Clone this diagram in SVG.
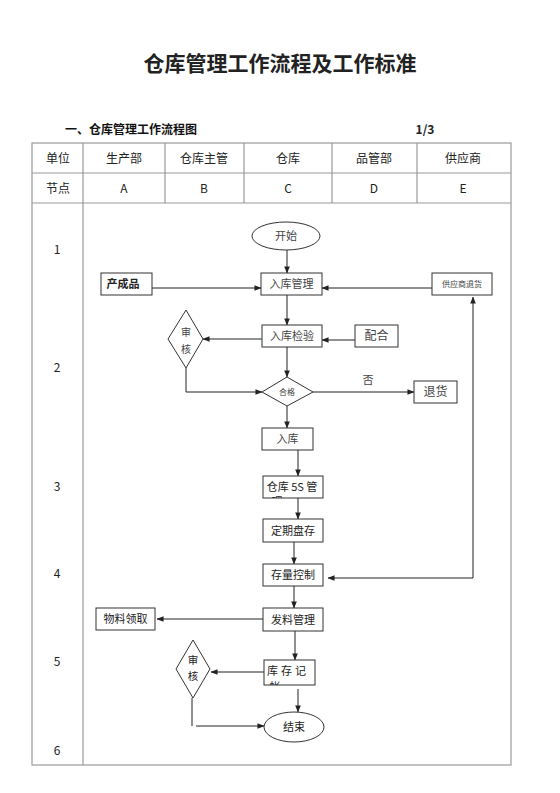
<svg xmlns="http://www.w3.org/2000/svg" width="560" height="793" viewBox="0 0 560 793">
<defs>
<style>
.t{font-family:"Noto Sans CJK SC","Liberation Sans",sans-serif;fill:#222;text-anchor:middle}
.s{font-family:"Noto Sans CJK SC","Liberation Sans",sans-serif;fill:#444;text-anchor:middle}
.grid{stroke:#999;stroke-width:1.2;fill:none}
.box{fill:#fff;stroke:#333;stroke-width:1}
.ln{stroke:#222;stroke-width:1;fill:none}
</style>
<marker id="ar" viewBox="0 0 8 8" refX="7.5" refY="4" markerWidth="7" markerHeight="7" markerUnits="userSpaceOnUse" orient="auto">
<path d="M0,0.8 L8,4 L0,7.2 z" fill="#222"/>
</marker>
<clipPath id="c5s"><rect x="263" y="476" width="60" height="22"/></clipPath>
<clipPath id="cjz"><rect x="264" y="660" width="51" height="25"/></clipPath>
</defs>
<rect width="560" height="793" fill="#fff"/>

<g id="title">
<text class="t" x="280" y="71" font-size="21" font-weight="bold" fill="#000">仓库管理工作流程及工作标准</text>
<text x="65" y="134" font-family="Noto Sans CJK SC,sans-serif" font-size="12" font-weight="bold" fill="#111">一、仓库管理工作流程图</text>
<text class="t" x="425" y="134" font-size="12" font-weight="bold">1/3</text>
</g>

<g id="table">
<rect class="grid" x="32" y="143" width="479" height="622"/>
<line class="grid" x1="32" y1="173" x2="511" y2="173"/>
<line class="grid" x1="32" y1="203" x2="511" y2="203"/>
<line class="grid" x1="83" y1="143" x2="83" y2="765"/>
<line class="grid" x1="165" y1="143" x2="165" y2="203"/>
<line class="grid" x1="244" y1="143" x2="244" y2="203"/>
<line class="grid" x1="332" y1="143" x2="332" y2="203"/>
<line class="grid" x1="417" y1="143" x2="417" y2="203"/>
<g font-size="12">
<text class="t" x="58" y="163">单位</text>
<text class="t" x="124" y="163">生产部</text>
<text class="t" x="204" y="163">仓库主管</text>
<text class="t" x="288" y="163">仓库</text>
<text class="t" x="374" y="163">品管部</text>
<text class="t" x="463" y="163">供应商</text>
<text class="t" x="58" y="193">节点</text>
<text class="t" x="124" y="193">A</text>
<text class="t" x="204" y="193">B</text>
<text class="t" x="288" y="193">C</text>
<text class="t" x="374" y="193">D</text>
<text class="t" x="463" y="193">E</text>
<text class="t" x="57" y="254">1</text>
<text class="t" x="57" y="372">2</text>
<text class="t" x="57" y="491">3</text>
<text class="t" x="57" y="578">4</text>
<text class="t" x="57" y="666">5</text>
<text class="t" x="57" y="755">6</text>
</g>
</g>

<g id="connectors">
<line class="ln" x1="287" y1="250" x2="287" y2="273" marker-end="url(#ar)"/>
<line class="ln" x1="152" y1="288" x2="261" y2="288" marker-end="url(#ar)"/>
<line class="ln" x1="432" y1="288" x2="322" y2="288" marker-end="url(#ar)"/>
<line class="ln" x1="287" y1="295" x2="287" y2="325" marker-end="url(#ar)"/>
<line class="ln" x1="355" y1="340" x2="322" y2="340" marker-end="url(#ar)"/>
<line class="ln" x1="262" y1="339" x2="203" y2="339" marker-end="url(#ar)"/>
<polyline class="ln" points="186,368 186,392 262,392" marker-end="url(#ar)"/>
<line class="ln" x1="287" y1="347" x2="287" y2="377" marker-end="url(#ar)"/>
<line class="ln" x1="313" y1="392" x2="414" y2="392" marker-end="url(#ar)"/>
<line class="ln" x1="287" y1="406" x2="287" y2="428" marker-end="url(#ar)"/>
<polyline class="ln" points="473,578 473,297" marker-end="url(#ar)"/>
<line class="ln" x1="473" y1="578" x2="328" y2="578" marker-end="url(#ar)"/>
<line class="ln" x1="298" y1="450" x2="298" y2="476" marker-end="url(#ar)"/>
<line class="ln" x1="298" y1="498" x2="298" y2="519" marker-end="url(#ar)"/>
<line class="ln" x1="294" y1="542" x2="294" y2="564" marker-end="url(#ar)"/>
<line class="ln" x1="294" y1="586" x2="294" y2="608" marker-end="url(#ar)"/>
<line class="ln" x1="263" y1="619" x2="157" y2="619" marker-end="url(#ar)"/>
<line class="ln" x1="295" y1="631" x2="295" y2="660" marker-end="url(#ar)"/>
<line class="ln" x1="264" y1="672" x2="211" y2="672" marker-end="url(#ar)"/>
<line class="ln" x1="298" y1="689" x2="298" y2="712" marker-end="url(#ar)"/>
<line class="ln" x1="192" y1="698" x2="192" y2="726"/>
<line class="ln" x1="196" y1="726" x2="264" y2="726" marker-end="url(#ar)"/>
<text class="s" x="368" y="384" font-size="11">否</text>
</g>

<g id="n-start"><ellipse class="box" cx="286" cy="236" rx="34" ry="14"/><text class="s" x="286" y="240" font-size="11">开始</text></g>
<g id="n-rkgl"><rect class="box" x="261" y="273" width="61" height="22"/><text class="s" x="291.5" y="288" font-size="11">入库管理</text></g>
<g id="n-ccp"><rect class="box" x="101" y="273" width="51" height="22"/><text class="t" x="123" y="288" font-size="11" font-weight="bold">产成品</text></g>
<g id="n-gysth"><rect class="box" x="432" y="273" width="60" height="22"/><text class="s" x="462" y="287" font-size="8">供应商退货</text></g>
<g id="n-rkjy"><rect class="box" x="262" y="325" width="60" height="22"/><text class="s" x="292" y="340" font-size="11">入库检验</text></g>
<g id="n-ph"><rect class="box" x="355" y="325" width="43" height="22"/><text class="s" x="376.5" y="340" font-size="12">配合</text></g>
<g id="n-sh1"><polygon class="box" points="186,310 203,339 186,368 168,339"/><text class="s" x="186" y="336" font-size="10">审</text><text class="s" x="186" y="353" font-size="10">核</text></g>
<g id="n-hg"><polygon class="box" points="287,377 313,392 287,406 262,392"/><text class="s" x="287" y="395" font-size="8">合格</text></g>
<g id="n-th"><rect class="box" x="414" y="381" width="43" height="22"/><text class="s" x="435.5" y="396" font-size="12">退货</text></g>
<g id="n-rk"><rect class="box" x="262" y="428" width="51" height="22"/><text class="s" x="287.5" y="443" font-size="11">入库</text></g>
<g id="n-5s"><rect class="box" x="263" y="476" width="60" height="22"/><g clip-path="url(#c5s)"><text class="t" x="292" y="491" font-size="11">仓库 5S 管</text><text class="t" x="277" y="506" font-size="11">理</text></g></g>
<g id="n-dqpc"><rect class="box" x="263" y="519" width="60" height="23"/><text class="t" x="293" y="535" font-size="11">定期盘存</text></g>
<g id="n-clkz"><rect class="box" x="263" y="564" width="60" height="22"/><text class="t" x="293" y="579" font-size="11">存量控制</text></g>
<g id="n-flgl"><rect class="box" x="263" y="608" width="60" height="23"/><text class="t" x="293" y="624" font-size="11">发料管理</text></g>
<g id="n-wllq"><rect class="box" x="96" y="608" width="59" height="22"/><text class="t" x="125.5" y="623" font-size="11">物料领取</text></g>
<g id="n-kcjz"><rect class="box" x="264" y="660" width="51" height="25"/><g clip-path="url(#cjz)"><text class="t" x="288" y="675" font-size="11" letter-spacing="3">库存记</text><text class="t" x="275" y="691" font-size="11">帐</text></g></g>
<g id="n-sh2"><polygon class="box" points="193,640 210,669 193,698 176,669"/><text class="t" x="193" y="664" font-size="10.5">审</text><text class="t" x="193" y="680" font-size="10.5">核</text></g>
<g id="n-end"><ellipse class="box" cx="294" cy="727" rx="30" ry="15"/><text class="t" x="294" y="731" font-size="11">结束</text></g>
</svg>
